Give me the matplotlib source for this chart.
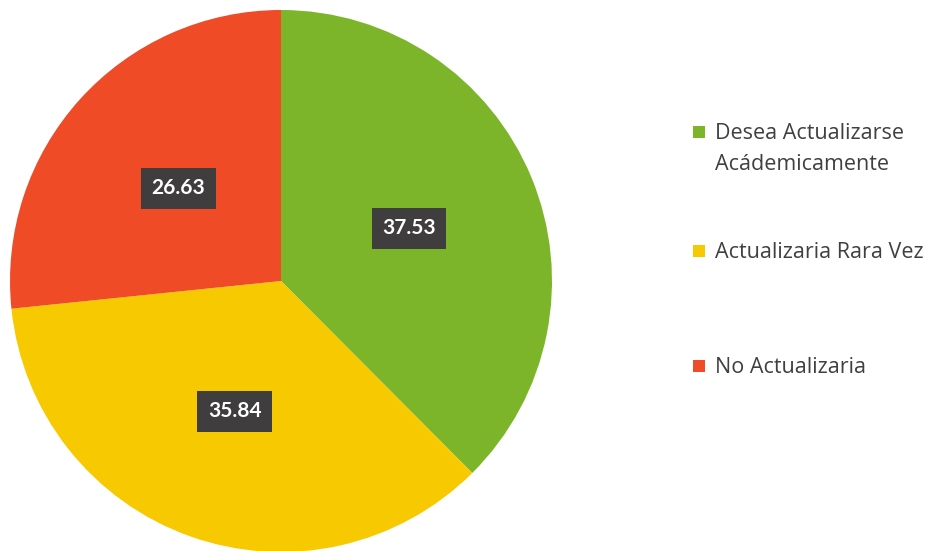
import matplotlib
matplotlib.use('Agg')
import matplotlib.pyplot as plt
from matplotlib.patches import Rectangle
import numpy as np

# datos del grafico
categorias = ['Desea Actualizarse\nAcádemicamente', 'Actualizaria Rara Vez', 'No Actualizaria']
valores = [37.53, 35.84, 26.63]
colores = ['#7db52a', '#f7c900', '#ee4b26']

plt.rcParams['font.family'] = ['Open Sans', 'DejaVu Sans']

fig = plt.figure(figsize=(9.5, 5.51), dpi=100)
W, H = 950, 551
cx, cy, r = 281, 281, 271
ax = fig.add_axes([(cx - r) / W, (H - cy - r) / H, 2 * r / W, 2 * r / H])

wedges, textos = ax.pie(valores, colors=colores, startangle=90, counterclock=False,
                        radius=1, labels=None, wedgeprops=dict(linewidth=0))
ax.set_xlim(-1, 1)
ax.set_ylim(-1, 1)
ax.set_aspect('equal')
ax.axis('off')

# etiquetas de datos en cajas oscuras
for w, v in zip(wedges, valores):
    ang = np.deg2rad((w.theta1 + w.theta2) / 2)
    ax.text(0.51 * np.cos(ang), 0.51 * np.sin(ang), f'{v:.2f}', ha='center', va='center',
            color='white', fontsize=15, fontweight='bold', family=['Lato', 'DejaVu Sans'],
            bbox=dict(boxstyle='square,pad=0.5', facecolor='#3f3d3e', edgecolor='none'))

# leyenda manual (cada linea por separado)
pos_y = [132, 251, 366]
for lab, col, y in zip(categorias, colores, pos_y):
    fig.patches.append(Rectangle((693 / W, 1 - (y + 6) / H), 12 / W, 12 / H,
                                 transform=fig.transFigure, facecolor=col, edgecolor='none'))
    for i, linea in enumerate(lab.split('\n')):
        fig.text(715 / W, 1 - (y + 7 + 31 * i) / H, linea, ha='left', va='baseline',
                 fontsize=15.5, color='#404040')

fig.savefig('out.png', dpi=100, facecolor='white')
